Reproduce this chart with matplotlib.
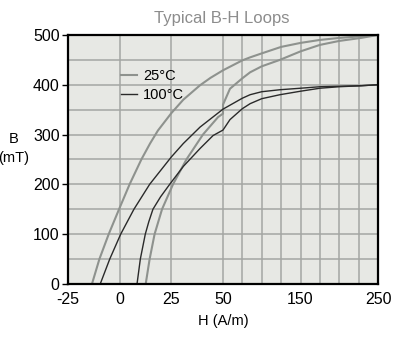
import numpy as np
import matplotlib
matplotlib.use("Agg")
from matplotlib import pyplot as plt

# B-H loop data, H in A/m, B in mT
h_25_up = [-13.4, -9.8, -5.3, -0.3, 4.8, 10.5, 14.7, 18.5, 25, 30.8, 38.9, 44, 50, 75, 85, 100, 125, 150, 175, 200, 225, 250]
b_25_up = [0, 50, 100, 150, 200, 250, 282, 308, 343, 370, 399, 414, 429, 449, 455, 463, 476, 484, 490, 494, 497, 500]
h_25_lo = [12.6, 14.5, 16.9, 20.5, 25.8, 32.3, 40.3, 47.6, 50, 50, 59, 75, 85, 100, 123.5, 150, 175, 200, 228, 250]
b_25_lo = [0, 50, 100, 150, 200, 250, 300, 335, 342, 360, 392, 413, 425, 437, 450, 467, 480, 488, 494, 500]
h_100_up = [-9.4, -4.8, 0.5, 6.9, 14.5, 25, 30.8, 38.9, 50, 75, 85, 100, 123.5, 150, 175, 200, 228, 250]
b_100_up = [0, 50, 100, 150, 200, 255, 282, 315, 351, 373, 380, 386, 390, 393, 396, 397, 398, 400]
h_100_lo = [8.4, 10, 12.4, 14.1, 16.1, 19.8, 24.2, 30.8, 38.9, 45.2, 50, 59, 75, 85, 100, 123.5, 150, 175, 200, 228, 250]
b_100_lo = [0, 50, 100, 125, 150, 175, 200, 236, 272, 298, 309, 330, 352, 362, 372, 380, 387, 393, 396, 398, 400]

x_ticks = [-25, 0, 25, 50, 150, 250]
x_grid = [75, 100, 125, 175, 200, 225]
y_ticks = [0, 100, 200, 300, 400, 500]
y_grid = [50, 150, 250, 350, 450]

plt.rcParams["font.family"] = ["Liberation Sans", "DejaVu Sans"]
plt.rcParams["axes.unicode_minus"] = False


# H axis: linear up to 50, then 100 A/m takes 3/8 of the room of the left part
def fwd(h):
    h = np.asarray(h, dtype=float)
    return np.where(h <= 50, h, 50 + (h - 50) * 0.375)


def inv(u):
    u = np.asarray(u, dtype=float)
    return np.where(u <= 50, u, 50 + (u - 50) / 0.375)


gray = "#8e928e"
dark = "#2a2a2a"

fig = plt.figure(figsize=(4, 3.45), dpi=100)
ax = fig.add_axes([0.17, 0.177, 0.775, 0.7217])
ax.set_facecolor("#e7e8e4")
ax.set_xscale("function", functions=(fwd, inv))

ax.plot(h_25_up, b_25_up, color=gray, lw=1.5, label="25°C")
ax.plot(h_25_lo, b_25_lo, color=gray, lw=1.5)
ax.plot(h_100_up, b_100_up, color=dark, lw=1.0, label="100°C")
ax.plot(h_100_lo, b_100_lo, color=dark, lw=1.0)

ax.set_xlim(-25, 250)
ax.set_ylim(0, 500)
ax.set_xticks(x_ticks)
ax.set_xticks(x_grid, minor=True)
ax.set_yticks(y_ticks)
ax.set_yticks(y_grid, minor=True)
ax.grid(True, which="both", color="#a4a6a3", lw=1.1, zorder=0)
ax.set_axisbelow(True)
ax.tick_params(axis="x", which="both", length=0, labelsize=11.5, pad=6)
ax.tick_params(axis="y", which="major", length=4, width=1, labelsize=11.5, pad=2)
ax.tick_params(axis="y", which="minor", length=0)
for s in ax.spines.values():
    s.set_linewidth(1.6)

fig.text(0.555, 0.945, "Typical B-H Loops", color="#8c8c8c", fontsize=12,
         ha="center", va="center")
ax.set_xlabel("H (A/m)", fontsize=10.5, labelpad=5)
fig.text(0.035, 0.597, "B", ha="center", va="center", fontsize=10.5)
fig.text(0.035, 0.542, "(mT)", ha="center", va="center", fontsize=10.5)

ax.legend(loc="upper left", bbox_to_anchor=(0.172, 0.862), frameon=False,
          fontsize=10.5, handlelength=1.1, handletextpad=0.4, labelspacing=0.3,
          borderpad=0, borderaxespad=0)

fig.savefig("out.png", dpi=100)
